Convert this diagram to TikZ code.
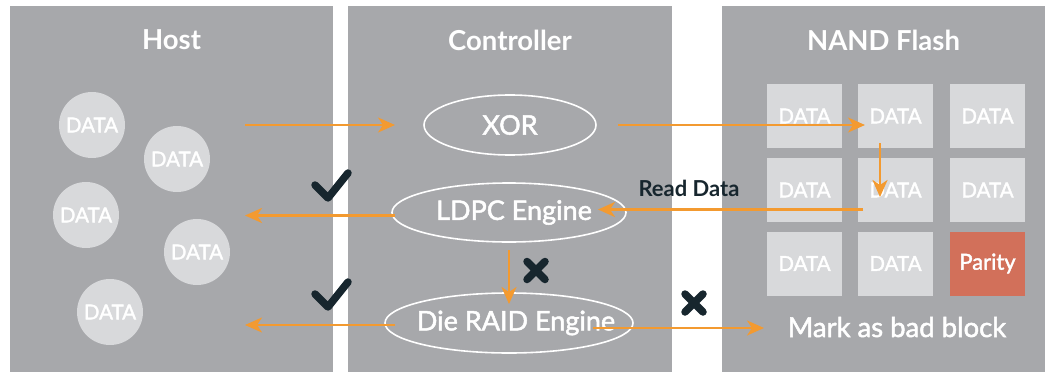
\documentclass[tikz,border=0pt]{standalone}
\usepackage{fontspec}
\setmainfont{Lato}
\newfontfamily\medfont[FakeBold=1.8]{Lato}
\usetikzlibrary{arrows.meta}
\definecolor{panel}{HTML}{A7A8AB}
\definecolor{cell}{HTML}{D8D9DB}
\definecolor{parity}{HTML}{D2705A}
\definecolor{flow}{HTML}{F39A30}
\definecolor{markc}{HTML}{17262E}
\begin{document}
\begin{tikzpicture}[x=1pt,y=-1pt,
  panelbox/.style={rectangle, fill=panel, draw=none, inner sep=0, minimum width=323pt, minimum height=366pt},
  title/.style={text=white, font=\fontsize{27.5}{30}\selectfont\bfseries},
  datacirc/.style={circle, fill=cell, minimum size=66pt, inner sep=0, text=white, font=\medfont\fontsize{20.5}{22}\selectfont},
  datacell/.style={rectangle, fill=cell, minimum width=75pt, minimum height=64pt, inner sep=0, text=white, font=\medfont\fontsize{20.5}{22}\selectfont},
  engine/.style={inner sep=0, text=white, font=\medfont\fontsize{27}{30}\selectfont},
  ring/.style={draw=white, line width=1.6pt},
  flowarrow/.style={draw=flow, line width=2.5pt, -{Stealth[length=17pt,width=15pt,inset=5pt]}},
  checkicon/.pic={\draw[markc, line width=7.5pt, line cap=round, line join=round] (-16,-2) -- (-3,11) -- (17,-14);},
  crossicon/.pic={\draw[markc, line width=7.5pt, line cap=round] (-9,-9) -- (9,9) (-9,9) -- (9,-9);}
]
\useasboundingbox (0,0) rectangle (1048,372);
% panels
\node[panelbox] (hostp) at (171.5,189) {};
\node[panelbox, minimum width=324pt] (ctrlp) at (510,189) {};
\node[panelbox] (nandp) at (883.5,189) {};
% titles
\node[title] (hostt) at (171.5,40) {Host};
\node[title] (ctrlt) at (510,40) {Controller};
\node[title] (nandt) at (883.5,40) {NAND Flash};
% host data
\node[datacirc] (d1) at (92,125) {DATA};
\node[datacirc] (d2) at (177,159) {DATA};
\node[datacirc] (d3) at (86,215) {DATA};
\node[datacirc] (d4) at (197,252) {DATA};
\node[datacirc] (d5) at (110,312) {DATA};
% engines
\node[engine] (xor) at (510,125) {XOR};
\node[engine] (ldpc) at (514,212.5) {LDPC Engine};
\node[engine] (raid) at (516,323) {Die RAID Engine};
\draw[ring] (510,125) ellipse [x radius=86, y radius=30];
\draw[ring] (509,212.5) ellipse [x radius=117, y radius=29.5];
\draw[ring] (509,323) ellipse [x radius=124, y radius=30];
% nand grid
\node[datacell] (c11) at (804.5,116) {DATA};
\node[datacell] (c12) at (895.5,116) {DATA};
\node[datacell] (c13) at (987.5,116) {DATA};
\node[datacell] (c21) at (804.5,190) {DATA};
\node[datacell] (c22) at (895.5,190) {DATA};
\node[datacell] (c23) at (987.5,190) {DATA};
\node[datacell] (c31) at (804.5,263.5) {DATA};
\node[datacell] (c32) at (895.5,263.5) {DATA};
\node[datacell, fill=parity, font=\medfont\fontsize{22}{24}\selectfont] (c33) at (987.5,263.5) {Parity};
\node[text=white, font=\medfont\fontsize{27.5}{30}\selectfont] (bad) at (897,327) {Mark as bad block};
\node[text=markc, font=\fontsize{22}{24}\selectfont\bfseries] (readlbl) at (689,188) {Read Data};
% arrow endpoints
\coordinate (a1s) at (245,125);
\coordinate (a1e) at (395,125);
\coordinate (a2s) at (618,125);
\coordinate (a2e) at (865,125);
\coordinate (a3s) at (880,143);
\coordinate (a3e) at (880,197);
\coordinate (a4s) at (863,209.5);
\coordinate (a4e) at (598,209.5);
\coordinate (a5s) at (395,215.5);
\coordinate (a5e) at (245,215.5);
\coordinate (a6s) at (395,325);
\coordinate (a6e) at (245,325);
\coordinate (a7s) at (509,250);
\coordinate (a7e) at (509,304);
\coordinate (a8s) at (593,328);
\coordinate (a8e) at (764,328);
\draw[flowarrow] (a1s) -- (a1e);
\draw[flowarrow] (a2s) -- (a2e);
\draw[flowarrow] (a3s) -- (a3e);
\draw[flowarrow] (a4s) -- (a4e);
\draw[flowarrow] (a5s) -- (a5e);
\draw[flowarrow] (a6s) -- (a6e);
\draw[flowarrow] (a7s) -- (a7e);
\draw[flowarrow] (a8s) -- (a8e);
% icons
\pic at (331,187) {checkicon};
\pic at (331,296) {checkicon};
\pic at (536,270.5) {crossicon};
\pic at (694,303) {crossicon};
\end{tikzpicture}
\end{document}
